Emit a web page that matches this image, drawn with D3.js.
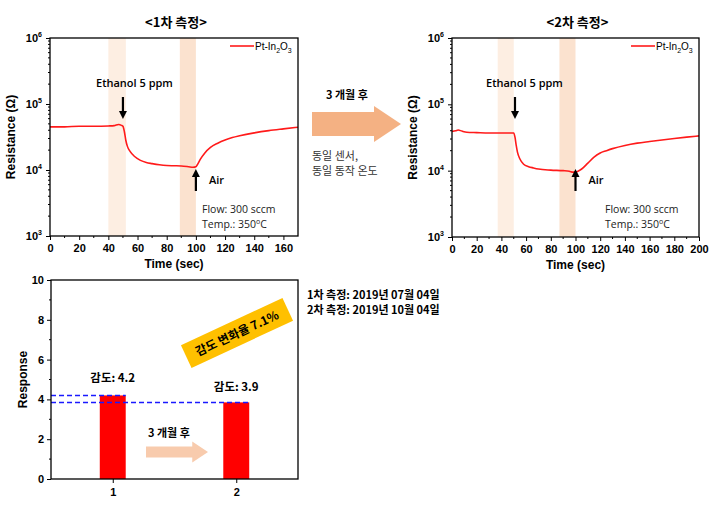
<!DOCTYPE html>
<html>
<head>
<meta charset="utf-8">
<script src="https://cdn.jsdelivr.net/npm/d3@7"></script>
<style>
  body { margin: 0; background: #fff; }
  text { font-family: "Liberation Sans", Arial, sans-serif; }
  .kr { font-family: "Noto Sans CJK KR", sans-serif; }
  .cal { font-family: "Open Sans", "Noto Sans", sans-serif; }
</style>
</head>
<body>
<div id="chart"></div>
<script>
// ---- data ----
var time1 = [0,10,20,30,40,44,47,49,50,51,52,53,55,58,62,66,70,75,80,85,90,95,98,100,101,103,106,110,115,120,125,130,140,150,160,170];
var res1 = [4.5e4,4.5e4,4.6e4,4.6e4,4.65e4,4.7e4,4.9e4,4.75e4,4.6e4,3.8e4,2.8e4,2.3e4,1.9e4,1.6e4,1.4e4,1.3e4,1.25e4,1.2e4,1.17e4,1.16e4,1.15e4,1.12e4,1.1e4,1.12e4,1.2e4,1.45e4,1.8e4,2.2e4,2.55e4,2.85e4,3.1e4,3.3e4,3.65e4,3.95e4,4.2e4,4.45e4];

var time2 = [0,3,5,8,12,20,30,40,48,50,51,52,53,55,58,62,66,70,80,90,95,98,100,102,105,110,115,120,125,130,140,150,160,170,180,190,200];
var res2 = [3.9e4,4.0e4,4.1e4,3.95e4,3.8e4,3.75e4,3.7e4,3.7e4,3.7e4,3.7e4,3.2e4,2.4e4,1.9e4,1.5e4,1.25e4,1.15e4,1.1e4,1.06e4,1.02e4,1.0e4,0.98e4,0.95e4,0.95e4,0.98e4,1.06e4,1.3e4,1.6e4,1.85e4,2.0e4,2.15e4,2.4e4,2.6e4,2.75e4,2.9e4,3.05e4,3.2e4,3.35e4];

var gasBands1 = [[40, 52], [89, 100]];
var gasBands2 = [[37, 50], [87, 100]];

var xTicks1 = [0,20,40,60,80,100,120,140,160];
var xTicks2 = [0,20,40,60,80,100,120,140,160,180,200];
var logTicks = [1e3, 1e4, 1e5, 1e6];

var runs = [1, 2];
var responses = [4.2, 3.85];
var responseLabels = ['감도: 4.2', '감도: 3.9'];
var responseTicks = [0,2,4,6,8,10];

var svg = d3.select('#chart').append('svg')
  .attr('width', 722).attr('height', 514);

var RED = '#ff1a1a';

function arrowDown(g, x, y1, y2) {
  g.append('line').attr('x1', x).attr('x2', x).attr('y1', y1).attr('y2', y2 - 6)
    .attr('stroke', '#000').attr('stroke-width', 2.2);
  g.append('path').attr('d', `M${x-4},${y2-8} L${x+4},${y2-8} L${x},${y2} Z`).attr('fill', '#000');
}
function arrowUp(g, x, y1, y2) {
  // y1 bottom, y2 tip (smaller)
  g.append('line').attr('x1', x).attr('x2', x).attr('y1', y1).attr('y2', y2 + 6)
    .attr('stroke', '#000').attr('stroke-width', 2.2);
  g.append('path').attr('d', `M${x-4},${y2+8} L${x+4},${y2+8} L${x},${y2} Z`).attr('fill', '#000');
}
function bigArrow(x0, x1, yc, body, head, color) {
  var hb = body / 2, hh = head / 2, hx = x1 - head * 0.75;
  svg.append('path')
    .attr('d', `M${x0},${yc-hb} L${hx},${yc-hb} L${hx},${yc-hh} L${x1},${yc} L${hx},${yc+hh} L${hx},${yc+hb} L${x0},${yc+hb} Z`)
    .attr('fill', color);
}

function logChart(opt) {
  var x = d3.scaleLinear().domain([0, opt.xmax]).range([opt.left, opt.right]);
  var y = d3.scaleLog().domain([1e3, 1e6]).range([opt.bottom, opt.top]);
  var g = svg.append('g');

  opt.bands.forEach(function (b, i) {
    g.append('rect').attr('x', x(b[0])).attr('width', x(b[1]) - x(b[0]))
      .attr('y', opt.top).attr('height', opt.bottom - opt.top)
      .attr('fill', i == 0 ? '#fdeee2' : '#fbe2cf');
  });

  var line = d3.line().x((d) => x(d[0])).y((d) => y(d[1])).curve(d3.curveMonotoneX);
  g.append('path').datum(d3.zip(opt.t, opt.r)).attr('d', line)
    .attr('fill', 'none').attr('stroke', RED).attr('stroke-width', 1.6);

  // frame
  g.append('rect').attr('x', opt.left).attr('y', opt.top)
    .attr('width', opt.right - opt.left).attr('height', opt.bottom - opt.top)
    .attr('fill', 'none').attr('stroke', '#000').attr('stroke-width', 1.3);

  // x axis
  var xa = g.append('g').attr('transform', `translate(0,${opt.bottom})`)
    .call(d3.axisBottom(x).tickValues(opt.xticks).tickSize(4).tickFormat(d3.format('d')));
  xa.select('.domain').remove();
  xa.selectAll('text').attr('font-size', 11).attr('font-weight', 'bold').attr('dy', '0.85em');
  var minorX = d3.range(10, opt.xmax, 20);
  g.selectAll(null).data(minorX).enter().append('line')
    .attr('x1', (d) => x(d)).attr('x2', (d) => x(d))
    .attr('y1', opt.bottom).attr('y2', opt.bottom + 2).attr('stroke', '#000');

  // y axis (log)
  var ya = g.append('g').attr('transform', `translate(${opt.left},0)`)
    .call(d3.axisLeft(y).tickValues(logTicks).tickSize(4).tickFormat(''));
  ya.select('.domain').remove();
  var minorY = [];
  [1e3, 1e4, 1e5].forEach(function (dec) {
    for (var k = 2; k < 10; k++) minorY.push(dec * k);
  });
  g.selectAll(null).data(minorY).enter().append('line')
    .attr('x1', opt.left - 2).attr('x2', opt.left)
    .attr('y1', (d) => y(d)).attr('y2', (d) => y(d)).attr('stroke', '#000');
  logTicks.forEach(function (v) {
    var t = g.append('text').attr('x', opt.left - 8).attr('y', y(v) + 4)
      .attr('text-anchor', 'end').attr('font-size', 11).attr('font-weight', 'bold');
    t.append('tspan').text('10');
    t.append('tspan').attr('dy', -5).attr('font-size', 7).text(Math.round(Math.log10(v)));
  });

  // axis titles
  g.append('text').attr('x', (opt.left + opt.right) / 2).attr('y', opt.bottom + 32)
    .attr('text-anchor', 'middle').attr('font-size', 12).attr('font-weight', 'bold').text('Time (sec)');
  g.append('text').attr('transform', `translate(${opt.left - 35},${(opt.top + opt.bottom) / 2}) rotate(-90)`)
    .attr('text-anchor', 'middle').attr('font-size', 12).attr('font-weight', 'bold').text('Resistance (Ω)');

  // title
  g.append('text').attr('class', 'kr').attr('x', (opt.left + opt.right) / 2 + 2).attr('y', 27)
    .attr('text-anchor', 'middle').attr('font-size', 13).attr('font-weight', 'bold').text(opt.title);

  // legend
  var lx = opt.right - 68;
  g.append('line').attr('x1', lx).attr('x2', lx + 24).attr('y1', 46).attr('y2', 46)
    .attr('stroke', RED).attr('stroke-width', 1.6);
  var lt = g.append('text').attr('x', lx + 25).attr('y', 50).attr('font-size', 10);
  lt.append('tspan').text('Pt-In');
  lt.append('tspan').attr('font-size', 7).attr('dy', 3).text('2');
  lt.append('tspan').attr('dy', -3).text('O');
  lt.append('tspan').attr('font-size', 7).attr('dy', 3).text('3');

  // annotations
  g.append('text').attr('class', 'cal').attr('x', opt.ethX).attr('y', 87)
    .attr('font-size', 11).attr('font-weight', 600).text('Ethanol 5 ppm');
  arrowDown(g, x(opt.downT), 97, 119);
  arrowUp(g, x(opt.upT), 191, 169);
  g.append('text').attr('class', 'cal').attr('x', x(opt.upT) + 13).attr('y', 184)
    .attr('font-size', 11).attr('font-weight', 600).text('Air');
  g.append('text').attr('class', 'cal').attr('x', opt.flowX).attr('y', 213)
    .attr('font-size', 10.5).attr('fill', '#222').text('Flow: 300 sccm');
  var tt = g.append('text').attr('class', 'cal').attr('x', opt.flowX).attr('y', 228)
    .attr('font-size', 10.5).attr('fill', '#222');
  tt.append('tspan').text('Temp.: 350');
  tt.append('tspan').attr('font-size', 7).attr('dy', -4).text('o');
  tt.append('tspan').attr('dy', 4).text('C');
}

logChart({ left: 50, right: 298, top: 38, bottom: 236, xmax: 170, t: time1, r: res1,
  bands: gasBands1, xticks: xTicks1, title: '<1차 측정>',
  ethX: 96, downT: 50, upT: 100, flowX: 202 });
logChart({ left: 452, right: 699, top: 38, bottom: 237, xmax: 200, t: time2, r: res2,
  bands: gasBands2, xticks: xTicks2, title: '<2차 측정>',
  ethX: 486, downT: 51, upT: 100, flowX: 605 });

// middle note
svg.append('text').attr('class', 'kr').attr('x', 326).attr('y', 99)
  .attr('font-size', 11).attr('font-weight', 'bold').text('3 개월 후');
bigArrow(312, 401, 124, 24, 36, '#f4b183');
svg.append('text').attr('class', 'kr').attr('x', 312).attr('y', 160).attr('font-size', 11).attr('fill', '#333').text('동일 센서,');
svg.append('text').attr('class', 'kr').attr('x', 312).attr('y', 175).attr('font-size', 11).attr('fill', '#333').text('동일 동작 온도');

// ---- bottom bar chart ----
var bL = 51, bR = 298, bT = 280, bB = 479;
var bx = d3.scaleLinear().domain([0.5, 2.5]).range([bL, bR]);
var by = d3.scaleLinear().domain([0, 10]).range([bB, bT]);
var barW = bx(1.21) - bx(1);
var bg = svg.append('g');

bg.selectAll('rect.bar').data(runs).enter().append('rect').attr('class', 'bar')
  .attr('x', (d) => bx(d) - barW / 2).attr('width', barW)
  .attr('y', (d, i) => by(responses[i])).attr('height', (d, i) => bB - by(responses[i]))
  .attr('fill', '#ff0000');

bg.selectAll('line.ref').data(runs).enter().append('line').attr('class', 'ref')
  .attr('x1', bL).attr('x2', (d) => bx(d) + barW / 2)
  .attr('y1', (d, i) => by(responses[i])).attr('y2', (d, i) => by(responses[i]))
  .attr('stroke', '#1a1aff').attr('stroke-width', 1.5).attr('stroke-dasharray', '5,3');

bg.append('rect').attr('x', bL).attr('y', bT).attr('width', bR - bL).attr('height', bB - bT)
  .attr('fill', 'none').attr('stroke', '#000').attr('stroke-width', 1.3);

var bxa = bg.append('g').attr('transform', `translate(0,${bB})`)
  .call(d3.axisBottom(bx).tickValues(runs).tickSize(4).tickFormat(d3.format('d')));
bxa.select('.domain').remove();
bxa.selectAll('text').attr('font-size', 11).attr('font-weight', 'bold').attr('dy', '0.9em');

var bya = bg.append('g').attr('transform', `translate(${bL},0)`)
  .call(d3.axisLeft(by).tickValues(responseTicks).tickSize(4));
bya.select('.domain').remove();
bya.selectAll('text').attr('font-size', 11).attr('font-weight', 'bold');
bg.selectAll(null).data([1,3,5,7,9]).enter().append('line')
  .attr('x1', bL - 2).attr('x2', bL).attr('y1', (d) => by(d)).attr('y2', (d) => by(d)).attr('stroke', '#000');

bg.append('text').attr('transform', `translate(27,${(bT + bB) / 2}) rotate(-90)`)
  .attr('text-anchor', 'middle').attr('font-size', 12).attr('font-weight', 'bold').text('Response');

bg.selectAll('text.lbl').data(runs).enter().append('text').attr('class', 'lbl kr')
  .attr('x', (d) => bx(d))
  .attr('y', (d, i) => by(responses[i]) - (i == 0 ? 13 : 11))
  .attr('text-anchor', 'middle').attr('font-size', 11.5).attr('font-weight', 'bold')
  .text((d, i) => responseLabels[i]);

bg.append('text').attr('class', 'kr').attr('x', 148).attr('y', 437)
  .attr('font-size', 11).attr('font-weight', 'bold').text('3 개월 후');
bigArrow(146, 208, 452, 11, 21, '#f8cbad');

// rotated badge
var badge = svg.append('g').attr('transform', 'translate(237,333) rotate(-25)');
badge.append('rect').attr('x', -56).attr('y', -12.5).attr('width', 112).attr('height', 25).attr('fill', '#ffc000');
badge.append('text').attr('class', 'kr').attr('x', 0).attr('y', 4.5).attr('text-anchor', 'middle')
  .attr('font-size', 12).attr('font-weight', 'bold').text('감도 변화율 7.1%');

svg.append('text').attr('class', 'kr').attr('x', 307).attr('y', 299)
  .attr('font-size', 11).attr('font-weight', 'bold').text('1차 측정: 2019년 07월 04일');
svg.append('text').attr('class', 'kr').attr('x', 307).attr('y', 314)
  .attr('font-size', 11).attr('font-weight', 'bold').text('2차 측정: 2019년 10월 04일');
</script>
</body>
</html>
